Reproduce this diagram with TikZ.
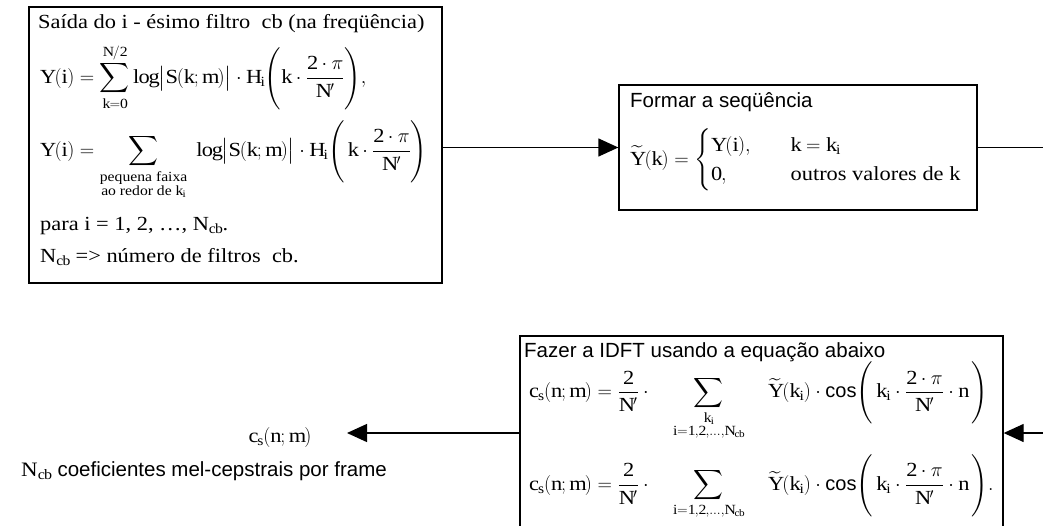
\RequirePackage{fix-cm}
\documentclass[tikz,border=0pt]{standalone}
\usepackage{amsmath}
\usepackage{fontspec}
\setmainfont[FakeStretch=1.12]{Liberation Serif}
\setsansfont{Liberation Sans}
\usetikzlibrary{arrows.meta}
\tikzset{
  box/.style={draw, line width=1.3pt, inner sep=0pt},
  txt/.style={inner sep=0pt, anchor=base west, font=\fontsize{20}{24}\selectfont},
  stxt/.style={inner sep=0pt, anchor=base west, font=\sffamily\fontsize{20.5}{24}\selectfont},
  conn/.style={line width=1.3pt},
  arr/.style={line width=1.3pt, -{Triangle[length=20pt,width=18pt]}},
}
\newcommand{\rmm}[1]{\mathrm{#1}}
\begin{document}
\begin{tikzpicture}[x=1pt,y=-1pt]
\path[use as bounding box] (0,0) rectangle (1043,525);
\clip (0,0) rectangle (1043,525);
% boxes
\node[box, minimum width=413pt, minimum height=276pt] (b1) at (235.5,145) {};
\node[box, minimum width=358pt, minimum height=125pt] (b2) at (798,147.5) {};
\node[box, minimum width=483pt, minimum height=204pt] (b3) at (761.5,438) {};
% box 1 text
\node[txt] (t1) at (38,28) {Saída do i - ésimo filtro \ cb (na freqüência)};
\node[txt, anchor=west] (e1) at (40,77) {$\displaystyle\mathrm{Y(i) = \sum_{\rmm{k=0}}^{\rmm{N/2}}\log\bigl|S(k;m)\bigr|\cdot H_i\Biggl(k\cdot\frac{2\cdot\pi}{N'}\Biggr),}$};
\node[txt, anchor=west] (e2) at (40,160) {$\displaystyle\mathrm{Y(i) = \sum_{\substack{\text{pequena faixa}\\ \text{ao redor de }\rmm{k_i}}} \;\log\bigl|S(k;m)\bigr|\cdot H_i\Biggl(\,k\cdot\frac{2\cdot\pi}{N'}\Biggr)}$};
\node[txt] (e3) at (40,230) {para i = 1, 2, \ldots, N$_{\mathrm{cb}}$.};
\node[txt] (e4) at (40,262) {N$_{\mathrm{cb}}$ => número de filtros \ cb.};
% box 2 text
\node[stxt] (t2) at (630,107) {Formar a seqüência};
\node[txt, anchor=west] (e5) at (630,160) {$\mathrm{\widetilde{Y}(k) = \begin{cases} \rmm{Y(i),} & \quad \rmm{k = k_i}\\ \rmm{0,} & \quad\text{outros valores de k}\end{cases}}$};
% box 3 text
\node[stxt] (t3) at (524,357) {Fazer a IDFT usando a equação abaixo};
\node[txt, anchor=west] (e6) at (529,401) {$\displaystyle\mathrm{c_s(n;m) = \frac{2}{N'}\cdot\quad\sum_{\substack{\rmm{k_i}\\ \rmm{i=1,2,\ldots,N_{cb}}}} \quad\widetilde{Y}(k_i)\cdot \text{\sffamily cos}\Biggl(\,k_i\cdot\frac{2\cdot\pi}{N'}\cdot n\,\Biggr)}$};
\node[txt, anchor=west] (e7) at (529,487) {$\displaystyle\mathrm{c_s(n;m) = \frac{2}{N'}\cdot\quad\sum_{\rmm{i=1,2,\ldots,N_{cb}}} \quad\widetilde{Y}(k_i)\cdot \text{\sffamily cos}\Biggl(\,k_i\cdot\frac{2\cdot\pi}{N'}\cdot n\,\Biggr).}$};
% output
\node[txt, anchor=base] (out) at (280,442) {$\mathrm{c_s(n;m)}$};
\node[stxt, anchor=base east] (desc) at (387,476) {{\rmfamily N$_{\mathrm{cb}}$} coeficientes mel-cepstrais por frame};
% connectors
\coordinate (r1) at (1043,147.5);
\coordinate (r2) at (1043,433);
\coordinate (tip) at (347,433);
\draw[arr] (b1.east |- b2.west) -- (b2.west);
\draw[conn] (b2.east) -- (r1);
\draw[arr] (r2) -- (b3.east |- r2);
\draw[arr] (b3.west |- r2) -- (tip);
\end{tikzpicture}
\end{document}
